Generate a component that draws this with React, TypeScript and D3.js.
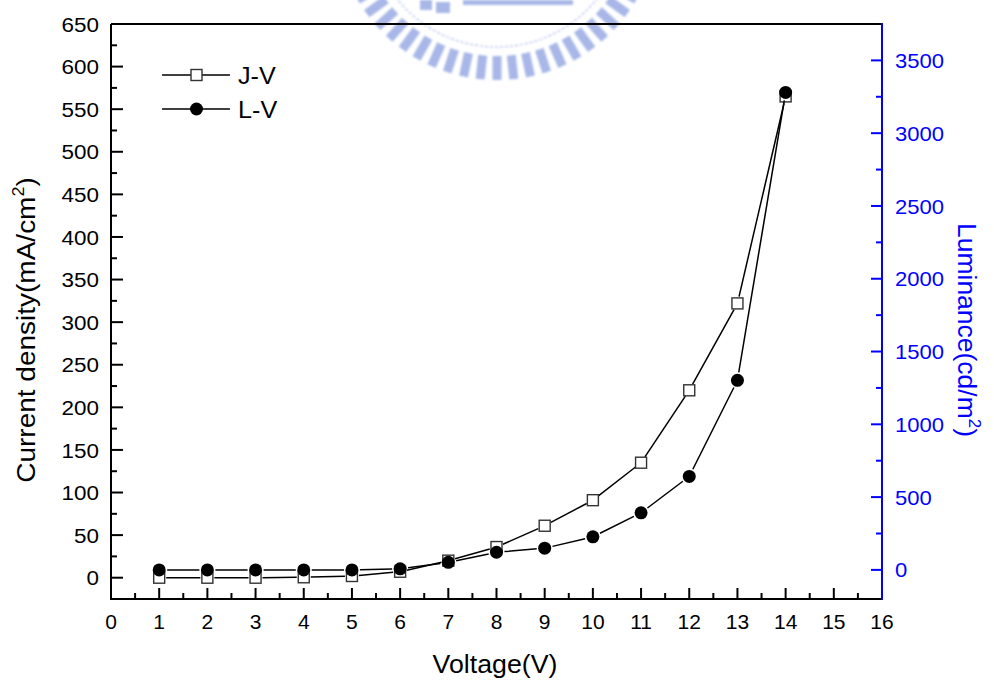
import React from "react";
import * as d3 from "d3";

const voltage = [1, 2, 3, 4, 5, 6, 7, 8, 9, 10, 11, 12, 13, 14];
const currentDensity = [0, 0, 0, 0.5, 2, 7, 20, 36, 61, 91, 135, 220, 322, 565];
const luminance = [0, 0, 0, 0, 0, 7, 52, 121, 149, 227, 392, 642, 1302, 3280];
const xTicks = d3.range(0, 17, 1);
const leftTicks = d3.range(0, 651, 50);
const rightTicks = d3.range(0, 3501, 500);
const seriesNames = ["J-V", "L-V"];

const W = 994, H = 682;
const L = 111, R = 882, T = 24, B = 599;
const FONT = "'Liberation Sans', Arial, Helvetica, sans-serif";
const BLUE = "#0000ff";

function segs(pts: [number, number][], gap: number) {
  const out: string[] = [];
  for (let i = 0; i < pts.length - 1; i++) {
    const [x1, y1] = pts[i];
    const [x2, y2] = pts[i + 1];
    const dx = x2 - x1, dy = y2 - y1;
    const len = Math.hypot(dx, dy);
    if (len <= 2 * gap) continue;
    const ux = dx / len, uy = dy / len;
    out.push(`M${x1 + ux * gap},${y1 + uy * gap}L${x2 - ux * gap},${y2 - uy * gap}`);
  }
  return out.join("");
}

function Txt(props: { x: number; y: number; sx?: number; rot?: number; size: number; anchor?: string; fill?: string; dy?: string; children: any }) {
  const { x, y, sx = 1, rot = 0, size, anchor = "start", fill = "#000", dy, children } = props;
  return (
    <text transform={`translate(${x},${y}) rotate(${rot}) scale(${sx},1)`} fontSize={size}
      textAnchor={anchor} fill={fill} dy={dy}>{children}</text>
  );
}

export default function App() {
  const x = d3.scaleLinear().domain([0, 16]).range([L, R]);
  const yL = d3.scaleLinear().domain([-25, 650]).range([B, T]);
  const yR = d3.scaleLinear().domain([-200, 3750]).range([B, T]);

  const jPts: [number, number][] = voltage.map((v, i) => [x(v), yL(currentDensity[i])]);
  const lPts: [number, number][] = voltage.map((v, i) => [x(v), yR(luminance[i])]);

  const xMinor = d3.range(0.5, 16, 1);
  const leftMinor = d3.range(25, 650, 50);
  const rightMinor = d3.range(250, 3750, 500);

  // watermark (decorative, faded logo)
  const cx = 497, cy = -81;
  const teeth = d3.range(0, 360, 6);

  return (
    <svg width={W} height={H} style={{ position: "absolute", left: 0, top: 0, background: "#fff" }}
      fontFamily={FONT}>
      <defs>
        <filter id="blur" x="-10%" y="-10%" width="120%" height="120%">
          <feGaussianBlur stdDeviation={0.9} />
        </filter>
      </defs>
      <rect x={0} y={0} width={W} height={H} fill="#fff" />
      {/* faded watermark */}
      <g opacity={0.7} fill="#8499de" filter="url(#blur)">
        {teeth.map((a, i) => (
          <rect key={i} x={-4.5} y={137} width={9} height={24}
            transform={`translate(${cx},${cy}) rotate(${a})`} />
        ))}
        <circle cx={cx} cy={cy} r={128} fill="none" stroke="#a8b6ea" strokeWidth={1.5} strokeDasharray="3 2" />
        <rect x={463} y={0} width={110} height={5} />
        <rect x={420} y={0} width={12} height={10} />
        <rect x={436} y={2} width={14} height={11} />
      </g>

      {/* axes frame */}
      <line x1={L} y1={T} x2={R} y2={T} stroke="#000" strokeWidth={2} />
      <line x1={L} y1={B} x2={R} y2={B} stroke="#000" strokeWidth={2} />
      <line x1={L} y1={T} x2={L} y2={B + 1} stroke="#000" strokeWidth={2} />
      <line x1={R} y1={T - 1} x2={R} y2={B + 1} stroke={BLUE} strokeWidth={2} />

      {/* x ticks */}
      {xTicks.map(t => (
        <g key={"x" + t}>
          {t > 0 && t < 16 && <line x1={x(t)} x2={x(t)} y1={B} y2={B - 11} stroke="#000" strokeWidth={2} />}
          <Txt x={x(t)} y={629} size={21} anchor="middle">{t}</Txt>
        </g>
      ))}
      {xMinor.map(t => (
        <line key={"xm" + t} x1={x(t)} x2={x(t)} y1={B} y2={B - 6} stroke="#000" strokeWidth={2} />
      ))}

      {/* left ticks */}
      {leftTicks.map(t => (
        <g key={"l" + t}>
          <line x1={L} x2={L + 12} y1={yL(t)} y2={yL(t)} stroke="#000" strokeWidth={2} />
          <Txt x={99} y={yL(t)} dy="0.36em" size={21} sx={1.07} anchor="end">{t}</Txt>
        </g>
      ))}
      {leftMinor.map(t => (
        <line key={"lm" + t} x1={L} x2={L + 6} y1={yL(t)} y2={yL(t)} stroke="#000" strokeWidth={2} />
      ))}

      {/* right ticks */}
      {rightTicks.map(t => (
        <g key={"r" + t}>
          <line x1={R} x2={R - 11} y1={yR(t)} y2={yR(t)} stroke={BLUE} strokeWidth={2} />
          <Txt x={895} y={yR(t)} dy="0.36em" size={21} sx={1.05} fill={BLUE}>{t}</Txt>
        </g>
      ))}
      {rightMinor.map(t => (
        <line key={"rm" + t} x1={R} x2={R - 6} y1={yR(t)} y2={yR(t)} stroke={BLUE} strokeWidth={2} />
      ))}

      {/* axis titles */}
      <Txt x={495} y={673} size={25} sx={1.07} anchor="middle">Voltage(V)</Txt>
      <Txt x={35} y={330} rot={-90} size={25} sx={1.12} anchor="middle">
        Current density(mA/cm<tspan fontSize={16} dy={-11}>2</tspan><tspan dy={11}>)</tspan>
      </Txt>
      <Txt x={958} y={330} rot={90} size={25} sx={1.06} anchor="middle" fill={BLUE}>
        Luminance(cd/m<tspan fontSize={16} dy={-11}>2</tspan><tspan dy={11}>)</tspan>
      </Txt>

      {/* J-V series */}
      <path d={segs(jPts, 7)} fill="none" stroke="#000" strokeWidth={1.5} />
      {jPts.map(([px, py], i) => (
        <rect key={"j" + i} x={px - 5.5} y={py - 5.5} width={11} height={11} fill="#fff" stroke="#333" strokeWidth={1.4} />
      ))}
      {/* L-V series */}
      <path d={segs(lPts, 8)} fill="none" stroke="#000" strokeWidth={1.5} />
      {lPts.map(([px, py], i) => (
        <circle key={"c" + i} cx={px} cy={py} r={6.5} fill="#000" />
      ))}

      {/* legend */}
      <line x1={162} x2={230} y1={75} y2={75} stroke="#000" strokeWidth={1.5} />
      <rect x={191} y={69.5} width={11} height={11} fill="#fff" stroke="#333" strokeWidth={1.4} />
      <Txt x={238} y={75} dy="0.36em" size={24} sx={1.05}>{seriesNames[0]}</Txt>
      <line x1={162} x2={230} y1={109} y2={109} stroke="#000" strokeWidth={1.5} />
      <circle cx={196.5} cy={109} r={6.5} fill="#000" />
      <Txt x={238} y={109} dy="0.36em" size={24} sx={1.05}>{seriesNames[1]}</Txt>
    </svg>
  );
}
